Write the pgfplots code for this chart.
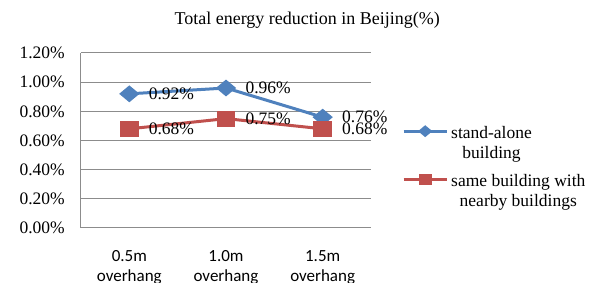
\documentclass[border=0pt]{standalone}
\usepackage{pgfplots}
\pgfplotsset{compat=1.18}
\usepackage{fontspec}
\setmainfont{Liberation Serif}
\newfontfamily\carlito{Carlito}
\definecolor{blueS}{HTML}{4F81BD}
\definecolor{redS}{HTML}{C0504D}
\definecolor{gridc}{HTML}{8C8C8C}
\newcommand\fs{\fontsize{17.5}{20}\selectfont}
\begin{document}
\begin{tikzpicture}[x=1pt,y=1pt]
\useasboundingbox (-81,-55) rectangle (521,228);
\begin{axis}[
 at={(0,0)}, anchor=south west,
 scale only axis, width=290pt, height=175pt,
 xmin=-0.5, xmax=2.5, ymin=0, ymax=1.2,
 clip=false,
 xtick={0,1,2},
 xticklabels={{0.5m\\overhang},{1.0m\\overhang},{1.5m\\overhang}},
 xticklabel style={align=center, font=\carlito\fontsize{17}{20}\selectfont, inner sep=0pt, yshift=-22pt},
 ytick={0,0.2,0.4,0.6,0.8,1.0,1.2},
 yticklabels={0.00\%,0.20\%,0.40\%,0.60\%,0.80\%,1.00\%,1.20\%},
 yticklabel style={font=\fs, inner sep=0pt, xshift=-16pt},
 ymajorgrids, grid style={gridc, line width=1pt},
 axis x line=bottom, axis y line=left,
 axis line style={-, gridc, line width=1pt},
 major tick length=0pt,
 legend cell align=left,
 legend style={at={(rel axis cs:1,0.62)}, anchor=north west, xshift=31pt, yshift=4pt,
   draw=none, fill=none, inner sep=0pt, row sep=5pt, column sep=3pt,
   font=\fs, cells={anchor=west}, nodes={inner sep=0pt}},
 legend image code/.code={\path (0pt,-20pt) (0pt,20pt);\draw[#1, mark size=4pt, mark repeat=2, mark phase=2] plot coordinates {(0pt,6pt) (21.5pt,6pt) (43pt,6pt)};},
 point meta=explicit symbolic,
 nodes near coords={\pgfplotspointmeta\%},
 every node near coord/.append style={anchor=west, xshift=18pt, inner sep=0pt, font=\fs, black},
]
\addplot[blueS, line width=3pt, mark=diamond*, mark size=6.5pt, mark options={xscale=1.6}]
 coordinates {(0,0.92)[0.92] (1,0.96)[0.96] (2,0.76)[0.76]};
\addlegendentry{\begin{tabular}{@{}c@{}}stand-alone\\building\end{tabular}}
\addplot[redS, line width=3pt, mark=square*, mark size=6.5pt, mark options={xscale=1.2}]
 coordinates {(0,0.68)[0.68] (1,0.75)[0.75] (2,0.68)[0.68]};
\addlegendentry{\begin{tabular}{@{}c@{}}same building with\\nearby buildings\end{tabular}}
\node[font=\fontsize{18}{20}\selectfont] at (rel axis cs:0.78,1.19) {Total energy reduction in Beijing(\%)};
\end{axis}
\end{tikzpicture}
\end{document}
